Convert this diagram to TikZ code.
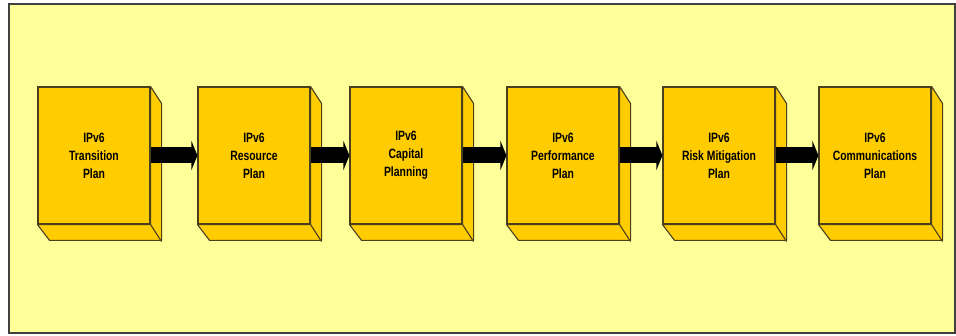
\documentclass[tikz,border=0pt]{standalone}
\usepackage{fontspec}
\setmainfont{Liberation Sans}[FakeStretch=0.77]
\usetikzlibrary{arrows.meta}
\definecolor{paleyellow}{HTML}{FFFF99}
\definecolor{planfill}{HTML}{FFCC00}
\definecolor{planline}{HTML}{4A4020}
\begin{document}
\begin{tikzpicture}[
	x=1pt, y=-1pt,
	plan/.style={draw=planline, fill=planfill, line width=1.1pt,
		minimum width=112pt, minimum height=137pt, inner sep=0pt,
		align=center, font=\fontsize{13.5}{18}\selectfont\bfseries},
	side/.style={draw=planline, fill=planfill, line width=1.1pt, line join=round},
	flow/.style={line width=16pt, -{Triangle[length=6pt, width=29pt]}}]
   \useasboundingbox (0,0) rectangle (956,336);
   \draw[fill=paleyellow, draw=black!75, line width=1.5pt] (9,4) rectangle (955,333);
   \foreach \n/\x/\t in {p1/38/{IPv6\\Transition\\Plan},
                        p2/198/{IPv6\\Resource\\Plan},
                        p3/350/{IPv6\\Capital\\Planning},
                        p4/507/{IPv6\\Performance\\Plan},
                        p5/663/{IPv6\\Risk Mitigation\\Plan},
                        p6/819/{IPv6\\Communications\\Plan}}{
      \node[plan] (\n) at (\x+56,155.5) {\t};
      \draw[side] (\n.north east) -- ++(11,17) -- ++(0,137) -- ++(-112,0)
         -- (\n.south west) -- (\n.south east) -- cycle;
      \draw[side] (\n.south east) -- ++(11,17);
   }
   \foreach \a/\b in {p1/p2, p2/p3, p3/p4, p4/p5, p5/p6}
      \draw[flow] (\a.east) -- (\b.west);
\end{tikzpicture}
\end{document}
